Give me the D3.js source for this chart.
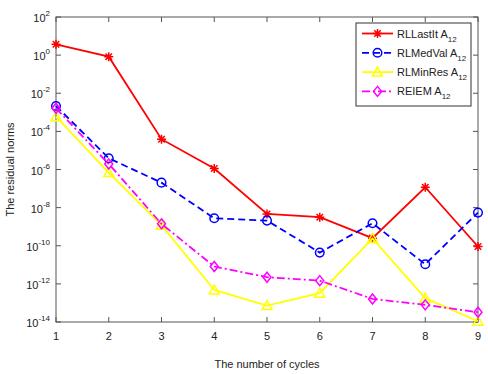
<!DOCTYPE html>
<html>
<head>
<meta charset="utf-8">
<script src="https://cdn.jsdelivr.net/npm/d3@7"></script>
<style>
  html, body { margin: 0; padding: 0; background: #fff; }
  svg { display: block; font-family: "Liberation Sans", Arial, sans-serif; }
</style>
</head>
<body>
<svg id="chart" width="488" height="374"></svg>
<script>
// Residual norms per restart cycle (log10 of the norm)
const cycles = [1, 2, 3, 4, 5, 6, 7, 8, 9];
const rlLastIt = [0.57, -0.08, -4.41, -5.95, -8.33, -8.50, -9.60, -6.93, -10.04];
const rlMedVal = [-2.67, -5.41, -6.69, -8.56, -8.68, -10.36, -8.82, -10.97, -8.26];
const rlMinRes = [-3.23, -6.16, -8.92, -12.32, -13.14, -12.49, -9.62, -12.75, -13.96];
const reiem    = [-2.79, -5.71, -8.85, -11.09, -11.65, -11.83, -12.79, -13.10, -13.49];
const yExponents = [2, 0, -2, -4, -6, -8, -10, -12, -14];
const seriesNames = ["RLLastIt", "RLMedVal", "RLMinRes", "REIEM"];

const series = [
  { name: seriesNames[0], values: rlLastIt, color: "#ff0000", dash: null, marker: "star" },
  { name: seriesNames[1], values: rlMedVal, color: "#0000ff", dash: "7,4", marker: "circle" },
  { name: seriesNames[2], values: rlMinRes, color: "#ffff00", dash: null, marker: "triangle" },
  { name: seriesNames[3], values: reiem, color: "#ff00ff", dash: "8,3,2,3", marker: "diamond" }
];

const svg = d3.select("#chart");
const plotL = 56, plotR = 478, plotT = 17, plotB = 322;
const axisColor = "#555";

const x = d3.scaleLinear().domain([1, 9]).range([plotL, plotR]);
const y = d3.scaleLog().domain([1e-14, 1e2]).range([plotB, plotT]);

// Plot box
svg.append("rect")
  .attr("x", plotL).attr("y", plotT)
  .attr("width", plotR - plotL).attr("height", plotB - plotT)
  .attr("fill", "none").attr("stroke", axisColor).attr("stroke-width", 1);

// Tick marks on all four sides
const tickLen = 5;
const g = svg.append("g").attr("stroke", axisColor).attr("stroke-width", 1);
cycles.forEach(c => {
  g.append("line").attr("x1", x(c)).attr("x2", x(c)).attr("y1", plotB).attr("y2", plotB - tickLen);
  g.append("line").attr("x1", x(c)).attr("x2", x(c)).attr("y1", plotT).attr("y2", plotT + tickLen);
});
yExponents.forEach(e => {
  const yy = y(Math.pow(10, e));
  g.append("line").attr("x1", plotL).attr("x2", plotL + tickLen).attr("y1", yy).attr("y2", yy);
  g.append("line").attr("x1", plotR).attr("x2", plotR - tickLen).attr("y1", yy).attr("y2", yy);
});

// X tick labels
svg.append("g").selectAll("text").data(cycles).join("text")
  .attr("x", d => x(d)).attr("y", plotB + 18)
  .attr("text-anchor", "middle").attr("font-size", 11).attr("fill", "#222")
  .text(d => d);

// Y tick labels as 10 with superscript exponent
const yl = svg.append("g");
yExponents.forEach(e => {
  const yy = y(Math.pow(10, e));
  const t = yl.append("text")
    .attr("x", plotL - 6).attr("y", yy + 5)
    .attr("text-anchor", "end").attr("font-size", 11).attr("fill", "#222");
  t.append("tspan").text("10");
  t.append("tspan").attr("dy", -6).attr("font-size", 8).text(String(e));
});

// Axis titles
svg.append("text")
  .attr("x", (plotL + plotR) / 2).attr("y", 368)
  .attr("text-anchor", "middle").attr("font-size", 11).attr("fill", "#222")
  .text("The number of cycles");
svg.append("text")
  .attr("transform", `translate(14,${(plotT + plotB) / 2}) rotate(-90)`)
  .attr("text-anchor", "middle").attr("font-size", 11).attr("fill", "#222")
  .text("The residual norms");

// Marker shapes
function drawMarker(sel, type, cx, cy, color) {
  const m = sel.append("g").attr("transform", `translate(${cx},${cy})`)
    .attr("stroke", color).attr("fill", "none").attr("stroke-width", 1.5);
  const r = 4.5;
  if (type === "star") {
    m.append("path").attr("d",
      `M${-r},0H${r}M0,${-r}V${r}M${-r*0.72},${-r*0.72}L${r*0.72},${r*0.72}M${-r*0.72},${r*0.72}L${r*0.72},${-r*0.72}`);
  } else if (type === "circle") {
    m.append("circle").attr("r", 4.3);
  } else if (type === "triangle") {
    m.append("path").attr("d", `M0,${-5}L${5},${4}L${-5},${4}Z`);
  } else if (type === "diamond") {
    m.append("path").attr("d", `M0,${-5}L${4},0L0,${5}L${-4},0Z`);
  }
}

const line = d3.line().x((d, i) => x(cycles[i])).y(d => y(Math.pow(10, d)));

const plot = svg.append("g");
series.forEach(s => {
  plot.append("path")
    .attr("d", line(s.values))
    .attr("fill", "none").attr("stroke", s.color).attr("stroke-width", 1.8)
    .attr("stroke-dasharray", s.dash);
  s.values.forEach((v, i) => drawMarker(plot, s.marker, x(cycles[i]), y(Math.pow(10, v)), s.color));
});

// Legend
const lg = svg.append("g");
lg.append("rect").attr("x", 356).attr("y", 23).attr("width", 115).attr("height", 83)
  .attr("fill", "#fff").attr("stroke", "#333").attr("stroke-width", 1);
series.forEach((s, i) => {
  const yy = 33.5 + i * 19.3;
  lg.append("line").attr("x1", 362).attr("x2", 393).attr("y1", yy).attr("y2", yy)
    .attr("stroke", s.color).attr("stroke-width", 1.8).attr("stroke-dasharray", s.dash);
  drawMarker(lg, s.marker, 377.5, yy, s.color);
  const t = lg.append("text").attr("x", 397).attr("y", yy + 4)
    .attr("font-size", 11).attr("fill", "#222");
  t.append("tspan").text(s.name + " A");
  t.append("tspan").attr("dy", 4).attr("font-size", 8).text("12");
});
</script>
</body>
</html>
